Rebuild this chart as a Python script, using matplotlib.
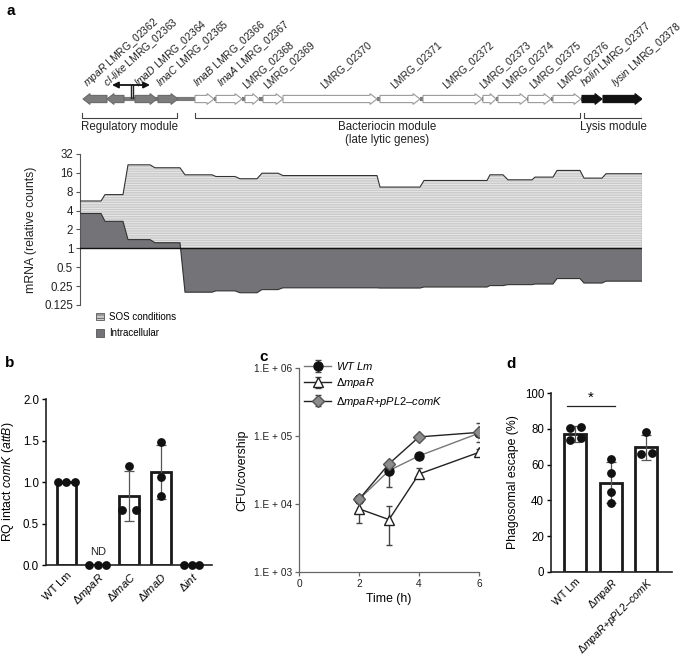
import numpy as np
import matplotlib
matplotlib.use("Agg")
import matplotlib.pyplot as plt
from matplotlib.patches import Polygon, Patch
from matplotlib.ticker import FixedLocator, FixedFormatter

plt.rcParams['font.family'] = ['Liberation Sans', 'DejaVu Sans']
plt.rcParams['mathtext.fontset'] = 'custom'
plt.rcParams['mathtext.rm'] = 'Liberation Sans'
plt.rcParams['mathtext.it'] = 'Liberation Sans:italic'
plt.rcParams['hatch.linewidth'] = 0.6

# ---- panel a: gene map (position along the prophage, arbitrary units) ----
gene_start = [3, 27, 55, 78, 115, 136, 165, 183, 203, 300, 343, 403, 418, 448, 473, 502, 523]
gene_end = [27, 44, 77, 98, 134, 162, 179, 203, 297, 340, 402, 416, 447, 471, 501, 522, 562]
gene_strand = [-1, -1, 1, 1, 1, 1, 1, 1, 1, 1, 1, 1, 1, 1, 1, 1, 1]
gene_group = ['reg', 'reg', 'reg', 'reg'] + ['bac'] * 11 + ['lys', 'lys']
gene_labels = [r"$\it{mpaR}$ LMRG_02362", r"$\it{cI}$-$\it{like}$ LMRG_02363",
               r"$\it{lmaD}$ LMRG_02364", r"$\it{lmaC}$ LMRG_02365",
               r"$\it{lmaB}$ LMRG_02366", r"$\it{lmaA}$ LMRG_02367",
               "LMRG_02368", "LMRG_02369", "LMRG_02370", "LMRG_02371", "LMRG_02372",
               "LMRG_02373", "LMRG_02374", "LMRG_02375", "LMRG_02376",
               r"$\it{holin}$ LMRG_02377", r"$\it{lysin}$ LMRG_02378"]
modules = [("Regulatory module", 2, 97), ("Bacteriocin module\n(late lytic genes)", 115, 500),
           ("Lysis module", 504, 562)]

# mRNA profile: segments (start, end) with relative counts
seg_start = [0, 25, 48, 75, 105, 136, 160, 182, 203, 300, 344, 410, 428, 455, 477, 504, 526]
seg_end = [21, 43, 70, 100, 132, 155, 177, 198, 297, 340, 407, 423, 452, 473, 500, 522, 562]
sos_counts = [5.7, 7.2, 21.5, 19.3, 14.9, 14.0, 12.9, 15.8, 14.5, 9.5, 12.1, 14.9, 12.4, 13.7, 17.5, 13.2, 15.5]
intra_counts = [3.6, 2.7, 1.38, 1.23, 0.20, 0.21, 0.196, 0.22, 0.235, 0.233, 0.242, 0.255, 0.264, 0.27, 0.33, 0.28, 0.30]
mrna_ticks = [0.125, 0.25, 0.5, 1, 2, 4, 8, 16, 32]

# ---- panel b ----
b_labels = ["WT Lm", r"Δ$\it{mpaR}$", r"Δ$\it{lmaC}$", r"Δ$\it{lmaD}$", r"Δ$\it{int}$"]
b_means = [1.0, 0.0, 0.834, 1.116, 0.0]
b_sd = [0.0, 0.0, 0.30, 0.325, 0.0]
b_points = [[1.0, 1.0, 1.0], [0, 0, 0], [1.19, 0.665, 0.665], [1.48, 1.06, 0.834], [0, 0, 0]]
b_jitter = [[-0.28, 0, 0.26], [-0.28, 0, 0.25], [0, -0.24, 0.21], [0, 0, 0], [-0.25, 0, 0.22]]

# ---- panel c ----
c_time = [2, 3, 4, 6]
c_wt = [1.17e4, 3.1e4, 5.1e4, 1.1e5]
c_wt_lo = [1.05e4, 1.8e4, 4.6e4, 1.0e5]
c_wt_hi = [1.3e4, 4.1e4, 5.6e4, 1.2e5]
c_mpar = [8.5e3, 5.9e3, 2.76e4, 5.75e4]
c_mpar_lo = [5.3e3, 2.5e3, 2.4e4, 5.2e4]
c_mpar_hi = [1.02e4, 9.5e3, 3.35e4, 6.5e4]
c_comp = [1.17e4, 3.9e4, 9.7e4, 1.13e5]
c_comp_lo = [1.1e4, 3.6e4, 9.2e4, 8.2e4]
c_comp_hi = [1.25e4, 4.2e4, 1.02e5, 1.56e5]

# ---- panel d ----
d_labels = ["WT Lm", r"Δ$\it{mpaR}$", r"Δ$\it{mpaR}$+$\it{pPL2}$–$\it{comK}$"]
d_means = [77.0, 50.0, 69.6]
d_sd = [4.3, 11.5, 7.2]
d_points = [[80.7, 81.0, 73.7, 74.6], [62.9, 55.5, 44.5, 38.8], [78.3, 66.2, 66.5]]
d_jitter = [[-0.15, 0.15, -0.15, 0.15], [0, 0, 0, 0], [0, -0.16, 0.15]]

W, H = 685, 659
fig = plt.figure(figsize=(W / 100, H / 100), dpi=100)


def px_axes(l, t, r, b):
    return fig.add_axes([l / W, 1 - b / H, (r - l) / W, (b - t) / H])


# ================= panel a: genes =================
ag = px_axes(80, 0, 642, 150)
ag.set_xlim(0, 562)
ag.set_ylim(150, 0)
ag.axis('off')
yc = 99
bh, hh = 3.6, 5.4
ag.plot([44, 115], [yc, yc], color='#7a7a7a', lw=3, solid_capstyle='butt', zorder=1)
for s, e in zip(gene_end[4:-2], gene_start[5:-1]):
    if e > s:
        ag.plot([s, e], [yc, yc], color='#7a7a7a', lw=3, solid_capstyle='butt', zorder=1)
colors = {'reg': ('#7c7c7c', '#6a6a6a'), 'bac': ('white', '#9a9a9a'), 'lys': ('#111111', '#111111')}
for s, e, st, g, lab in zip(gene_start, gene_end, gene_strand, gene_group, gene_labels):
    hl = min(7, 0.45 * (e - s))
    if st > 0:
        pts = [(s, yc - bh), (e - hl, yc - bh), (e - hl, yc - hh), (e, yc),
               (e - hl, yc + hh), (e - hl, yc + bh), (s, yc + bh)]
    else:
        pts = [(e, yc - bh), (s + hl, yc - bh), (s + hl, yc - hh), (s, yc),
               (s + hl, yc + hh), (s + hl, yc + bh), (e, yc + bh)]
    fc, ec = colors[g]
    ag.add_patch(Polygon(pts, closed=True, facecolor=fc, edgecolor=ec, lw=0.8, zorder=2))
    ag.text((s + e) / 2 - 5, 90, lab, rotation=42, rotation_mode='anchor',
            ha='left', va='bottom', fontsize=7.5, color='#222222')

# promoters
ag.plot([51, 51], [yc - 1, 85], color='#222222', lw=1)
ag.plot([53, 53], [yc - 1, 85], color='#222222', lw=1)
ag.annotate('', xy=(32, 85), xytext=(51.5, 85),
            arrowprops=dict(arrowstyle='-|>', color='#111111', lw=1.3, mutation_scale=9,
                            shrinkA=0, shrinkB=0))
ag.annotate('', xy=(70, 85), xytext=(52.5, 85),
            arrowprops=dict(arrowstyle='-|>', color='#111111', lw=1.3, mutation_scale=9,
                            shrinkA=0, shrinkB=0))

for name, s, e in modules:
    ag.plot([s, s, e, e], [113, 117.5, 117.5, 113], color='#444444', lw=0.8)
    ag.text((s + e) / 2, 121, name, ha='center', va='top', fontsize=8.3,
            color='#222222', linespacing=1.1)

# ================= panel a: mRNA =================
am = px_axes(80, 154, 642, 305)
xs, ys_sos, ys_in = [], [], []
for s, e, v1, v2 in zip(seg_start, seg_end, sos_counts, intra_counts):
    xs += [s, e]
    ys_sos += [v1, v1]
    ys_in += [v2, v2]
xs = np.array(xs)
am.fill_between(xs, 1, ys_sos, facecolor='#cbcbcb', edgecolor='#ececec', hatch='-------',
                lw=0, zorder=1)
am.plot(xs, ys_sos, color='#333333', lw=0.8, zorder=3)
am.fill_between(xs, 1, ys_in, facecolor='#747478', lw=0, zorder=2)
am.plot(xs, ys_in, color='#333333', lw=0.8, zorder=3)
am.plot([xs[-1], xs[-1]], [ys_in[-1], ys_sos[-1]], color='#333333', lw=0.8, zorder=3)
am.axhline(1, color='#111111', lw=1, zorder=4)
am.set_yscale('log', base=2)
am.set_ylim(0.125, 32)
am.set_xlim(0, 562)
am.yaxis.set_major_locator(FixedLocator(mrna_ticks))
am.yaxis.set_major_formatter(FixedFormatter([f"{t:g}" for t in mrna_ticks]))
am.yaxis.set_minor_locator(FixedLocator([]))
for sp in ['top', 'right', 'bottom']:
    am.spines[sp].set_visible(False)
am.spines['left'].set_color('#555555')
am.set_xticks([])
am.tick_params(axis='y', direction='out', length=3, width=0.8, color='#555555',
               labelsize=8.3, labelcolor='#222222', pad=2)
am.set_ylabel("mRNA (relative counts)", fontsize=8.8, color='#222222', labelpad=5)
leg_a = am.legend(handles=[Patch(facecolor='#cbcbcb', edgecolor='#555555', hatch='-----', lw=0.6,
                                 label='SOS conditions'),
                           Patch(facecolor='#747478', edgecolor='#555555', lw=0.6,
                                 label='Intracellular')],
                  loc='upper left', bbox_to_anchor=(96 / W, 1 - 312 / H),
                  bbox_transform=fig.transFigure, frameon=False, fontsize=7,
                  handlelength=0.8, handleheight=0.8, handletextpad=0.5,
                  labelspacing=0.65, borderpad=0, borderaxespad=0)

# ================= panel b =================
ab = px_axes(46, 399, 212, 565)
xb = np.arange(len(b_labels))
ab.bar(xb, b_means, width=0.63, facecolor='white', edgecolor='#1a1a1a', lw=2, zorder=2)
for i in range(len(xb)):
    if b_sd[i] > 0:
        ab.errorbar(xb[i], b_means[i], yerr=b_sd[i], color='#555555', lw=0.9,
                    capsize=3.5, capthick=0.9, zorder=3)
    ab.plot(xb[i] + np.array(b_jitter[i]), b_points[i], 'o', color='#111111', ms=5.3,
            zorder=4, clip_on=False)
ab.text(1, 0.1, "ND", ha='center', va='bottom', fontsize=8, color='#222222')
ab.set_xlim(-0.65, 4.63)
ab.set_ylim(0, 2.0)
ab.set_yticks([0, 0.5, 1.0, 1.5, 2.0])
ab.set_yticklabels(["0.0", "0.5", "1.0", "1.5", "2.0"])
ab.set_xticks(xb)
ab.set_xticklabels(b_labels, rotation=45, ha='right', rotation_mode='anchor')
for sp in ['top', 'right']:
    ab.spines[sp].set_visible(False)
for sp in ['left', 'bottom']:
    ab.spines[sp].set_linewidth(1.2)
    ab.spines[sp].set_color('#222222')
ab.tick_params(direction='out', length=3, width=1, labelsize=8.3, pad=2)
ab.tick_params(axis='x', length=0, pad=4, labelsize=8)
ab.set_ylabel(r"RQ intact $\it{comK}$ ($\it{attB}$)", fontsize=8.8, labelpad=5)

# ================= panel c =================
ac = px_axes(299, 368, 479, 572)
ac.errorbar(c_time, c_wt, yerr=[np.subtract(c_wt, c_wt_lo), np.subtract(c_wt_hi, c_wt)],
            color='#777777', lw=1, marker='o', ms=6.5, mfc='#111111', mec='#111111',
            capsize=2.5, ecolor='#444444', elinewidth=1, zorder=3, label=r"$\it{WT\ Lm}$")
ac.errorbar(c_time, c_mpar, yerr=[np.subtract(c_mpar, c_mpar_lo), np.subtract(c_mpar_hi, c_mpar)],
            color='#222222', lw=1, marker='^', ms=6.5, mfc='white', mec='#222222',
            capsize=2.5, ecolor='#444444', elinewidth=1, zorder=2, label=r"Δ$\it{mpaR}$")
ac.errorbar(c_time, c_comp, yerr=[np.subtract(c_comp, c_comp_lo), np.subtract(c_comp_hi, c_comp)],
            color='#222222', lw=1, marker='D', ms=6, mfc='#8c8c8c', mec='#555555',
            capsize=2.5, ecolor='#444444', elinewidth=1, zorder=4,
            label=r"Δ$\it{mpaR}$+$\it{pPL2}$–$\it{comK}$")
ac.set_yscale('log')
ac.set_ylim(1e3, 1e6)
ac.set_xlim(0, 6)
ac.set_xticks([0, 2, 4, 6])
ac.yaxis.set_major_locator(FixedLocator([1e3, 1e4, 1e5, 1e6]))
ac.yaxis.set_major_formatter(FixedFormatter(["1.E + 03", "1.E + 04", "1.E + 05", "1.E + 06"]))
ac.yaxis.set_minor_locator(FixedLocator([]))
for sp in ['top', 'right']:
    ac.spines[sp].set_visible(False)
for sp in ['left', 'bottom']:
    ac.spines[sp].set_color('#666666')
    ac.spines[sp].set_linewidth(0.9)
ac.tick_params(direction='out', length=3, width=0.9, color='#666666', labelsize=7.3,
               labelcolor='#222222', pad=2)
ac.set_xlabel("Time (h)", fontsize=8.8, labelpad=3)
ac.set_ylabel("CFU/covership", fontsize=8.8, labelpad=4)
ac.legend(loc='upper left', bbox_to_anchor=(0.03, 1.04), frameon=False, fontsize=8,
          handlelength=2.4, handletextpad=0.4, labelspacing=0.4, borderpad=0, borderaxespad=0)

# ================= panel d =================
ad = px_axes(551, 393, 672, 572)
xd = np.arange(len(d_labels))
ad.bar(xd, d_means, width=0.62, facecolor='white', edgecolor='#1a1a1a', lw=2, zorder=2)
for i in range(len(xd)):
    ad.errorbar(xd[i], d_means[i], yerr=d_sd[i], color='#555555', lw=0.9,
                capsize=3.5, capthick=0.9, zorder=3)
    ad.plot(xd[i] + np.array(d_jitter[i]), d_points[i], 'o', color='#111111', ms=5.3, zorder=4)
ad.plot([-0.24, 1.11], [93, 93], color='#222222', lw=0.9, clip_on=False)
ad.text(0.43, 93.5, "*", ha='center', va='bottom', fontsize=11)
ad.set_xlim(-0.69, 2.72)
ad.set_ylim(0, 100)
ad.set_yticks([0, 20, 40, 60, 80, 100])
ad.set_xticks(xd)
ad.set_xticklabels(d_labels, rotation=45, ha='right', rotation_mode='anchor')
for sp in ['top', 'right']:
    ad.spines[sp].set_visible(False)
for sp in ['left', 'bottom']:
    ad.spines[sp].set_linewidth(1.2)
    ad.spines[sp].set_color('#222222')
ad.tick_params(direction='out', length=3, width=1, labelsize=8.3, pad=2)
ad.tick_params(axis='x', length=0, pad=3, labelsize=7.6)
ad.set_ylabel("Phagosomal escape (%)", fontsize=8.8, labelpad=4)

# panel letters
for letter, x, y in [('a', 6, 4), ('b', 5, 356), ('c', 259, 350), ('d', 506, 357)]:
    fig.text(x / W, 1 - y / H, letter, fontsize=11, weight='bold', va='top', ha='left')

fig.savefig("out.png", dpi=100)
